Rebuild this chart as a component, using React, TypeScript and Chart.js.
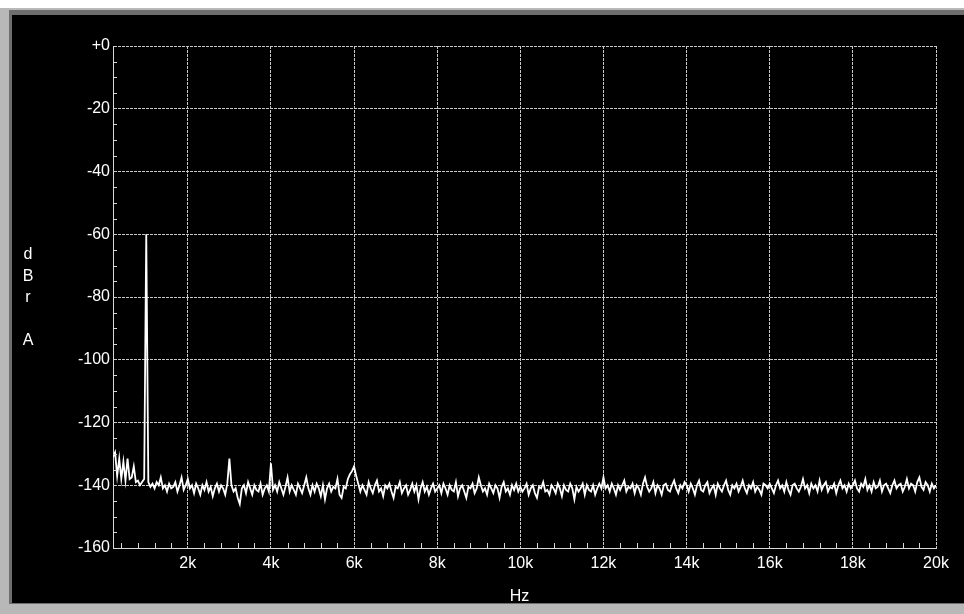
import React, { useEffect, useRef } from "react";
import { Chart, registerables } from "chart.js";

Chart.register(...registerables);

// Frequency axis (Hz): FFT bins every 50 Hz from 200 Hz to 20 kHz
const freqStart = 200;
const freqStep = 50;
const xTickValues = [2000, 4000, 6000, 8000, 10000, 12000, 14000, 16000, 18000, 20000];
const xMinorTicks = [400, 800, 1200, 1600, 2400, 2800, 3200, 3600, 4400, 4800, 5200, 5600, 6400, 6800, 7200, 7600, 8400, 8800, 9200, 9600, 10400, 10800, 11200, 11600, 12400, 12800, 13200, 13600, 14400, 14800, 15200, 15600, 16400, 16800, 17200, 17600, 18400, 18800, 19200, 19600];
const yTickValues = [0, -20, -40, -60, -80, -100, -120, -140, -160];
const yMinorTicks = [-5, -10, -15, -25, -30, -35, -45, -50, -55, -65, -70, -75, -85, -90, -95, -105, -110, -115, -125, -130, -135, -145, -150, -155];
const yLabelLetters = ["d", "B", "r", "", "A"];
const xTitle = "Hz";

// Level (dBr A), segment by segment
const level200to1950 = [-131, -129.5, -137, -131.5, -138, -132.5, -138.5, -131.5, -138, -137.5, -134, -139, -138.5, -140, -139, -138, -60, -139, -140.5, -139.5, -141, -139, -140, -137.5, -141, -140, -142, -139.5, -141, -140.5, -139, -142, -140, -137.5, -141.5, -140];
const level2000to3950 = [-138, -141, -140, -142.5, -139.5, -141, -143, -140, -141.5, -139, -142, -140.5, -143.5, -141, -139.5, -142, -140, -141, -143, -139.5, -131.5, -140, -142, -141, -144, -146, -141, -140, -142.5, -139, -141, -143, -140, -141.5, -142, -139.5, -143, -141, -140, -142];
const level4000to5950 = [-133, -141.5, -140, -142, -139, -141, -143, -140.5, -137.5, -142, -140, -141.5, -143, -139.5, -141, -142.5, -140, -137.5, -141, -143, -140, -142, -139.5, -141, -143.5, -140, -144.5, -141, -139.5, -142, -140.5, -141, -138, -143, -144, -140.5, -141, -138, -136.5, -135.5];
const level6000to7950 = [-134, -137, -139.5, -142, -140, -141.5, -143, -139, -141, -142.5, -140, -138.5, -142, -141, -143.5, -140, -141, -139.5, -142, -144, -140.5, -141, -139, -142.5, -141, -140, -143, -141.5, -139.5, -142, -140, -144.5, -141, -139, -142, -140.5, -143, -141, -139.5, -142];
const level8000to9950 = [-141, -140, -142.5, -139.5, -141, -143, -140, -141.5, -142, -139, -143.5, -141, -140, -142, -144, -140.5, -141, -139.5, -142.5, -141, -137.5, -140, -142, -141, -143, -139.5, -141, -142.5, -140, -141, -144, -140.5, -139, -142, -141, -143, -140, -141.5, -139.5, -142];
const level10000to11950 = [-140.5, -142, -141, -139.5, -143, -141, -140, -142.5, -144, -140.5, -141, -139, -142, -141.5, -143, -140, -141, -142.5, -139.5, -141, -143.5, -140, -141.5, -142, -139.5, -141, -144.5, -140.5, -142, -141, -139.5, -143, -140, -141.5, -142, -140, -143, -141, -139.5, -141];
const level12000to13950 = [-137.5, -141, -140, -142, -139.5, -141, -143, -140, -141.5, -140, -138.5, -142, -140.5, -141, -139.5, -142.5, -140, -141, -143, -139.5, -137.5, -140.5, -142, -141, -139, -142.5, -140, -141, -143, -140, -139.5, -141.5, -142, -140, -138.5, -141, -142.5, -140, -141, -139];
const level14000to15950 = [-140, -142, -139.5, -141, -143, -140, -138.5, -141.5, -142, -140, -139, -142.5, -141, -140, -143, -139.5, -141, -142, -140, -138.5, -141.5, -143, -140, -141, -139.5, -142, -140.5, -138.5, -141, -142.5, -140, -141, -139, -142, -140.5, -141.5, -143, -139.5, -140, -141];
const level16000to17950 = [-139.5, -141, -142.5, -140, -138.5, -141, -140, -142, -139, -141.5, -143, -140, -139.5, -141, -142, -140.5, -138, -141, -140, -142.5, -139.5, -141, -140, -142, -138.5, -141.5, -140, -139, -142, -140.5, -141, -139.5, -142.5, -140, -138.5, -141, -140, -142, -139.5, -141];
const level18000to20000 = [-140, -138.5, -141, -142, -139.5, -140.5, -138, -141.5, -140, -142, -139, -141, -140.5, -138.5, -142, -140, -139.5, -141, -142.5, -140, -138.5, -141, -140, -139.5, -142, -140.5, -138, -141, -139.5, -140, -142, -139, -137.5, -140.5, -141.5, -139, -140, -142, -139.5, -141, -140];

const levels = [
  ...level200to1950,
  ...level2000to3950,
  ...level4000to5950,
  ...level6000to7950,
  ...level8000to9950,
  ...level10000to11950,
  ...level12000to13950,
  ...level14000to15950,
  ...level16000to17950,
  ...level18000to20000,
];

const FONT = '"Liberation Sans", Arial, sans-serif';

export default function App() {
  const canvasRef = useRef<HTMLCanvasElement | null>(null);

  useEffect(() => {
    const canvas = canvasRef.current;
    if (!canvas) return;
    const points = levels.map((v, i) => ({ x: freqStart + i * freqStep, y: v }));

    const extras = {
      id: "apExtras",
      afterDraw(chart: any) {
        const { ctx, chartArea, scales } = chart;
        const xs = scales.x;
        const ys = scales.y;
        ctx.save();
        ctx.strokeStyle = "#d8d8d8";
        ctx.lineWidth = 1;
        ctx.beginPath();
        for (const v of yMinorTicks) {
          const py = Math.round(ys.getPixelForValue(v)) + 0.5;
          ctx.moveTo(chartArea.left, py);
          ctx.lineTo(chartArea.left + 4, py);
        }
        for (const v of xMinorTicks) {
          const px = Math.round(xs.getPixelForValue(v)) + 0.5;
          ctx.moveTo(px, chartArea.bottom);
          ctx.lineTo(px, chartArea.bottom - 5);
        }
        ctx.stroke();
        ctx.fillStyle = "#ffffff";
        ctx.font = "16px " + FONT;
        ctx.textAlign = "center";
        ctx.textBaseline = "middle";
        yLabelLetters.forEach((ch, i) => {
          if (ch) ctx.fillText(ch, 16, 240 + i * 21.5);
        });
        ctx.fillText(xTitle, (chartArea.left + chartArea.right) / 2 - 5, 582);
        ctx.restore();
      },
    };

    const chart = new Chart(canvas, {
      type: "line",
      data: {
        datasets: [
          {
            data: points,
            borderColor: "#ffffff",
            borderWidth: 1.8,
            pointRadius: 0,
            tension: 0,
            fill: false,
          },
        ],
      },
      options: {
        animation: false,
        responsive: false,
        devicePixelRatio: 1,
        layout: { padding: { top: 31, right: 28, left: 0, bottom: 0 } },
        plugins: { legend: { display: false }, tooltip: { enabled: false }, title: { display: false } },
        scales: {
          x: {
            type: "linear",
            min: 200,
            max: 20000,
            afterBuildTicks: (axis: any) => {
              axis.ticks = xTickValues.map((v) => ({ value: v }));
            },
            afterFit: (axis: any) => {
              axis.height = 55;
            },
            ticks: {
              color: "#ffffff",
              font: { family: FONT, size: 16 },
              padding: 6,
              maxRotation: 0,
              autoSkip: false,
              callback: (v: any) => v / 1000 + "k",
            },
            grid: { color: "#c8c8c8", lineWidth: 1, drawTicks: false },
            border: { display: true, color: "#d8d8d8", width: 1, dash: [3, 1] },
          },
          y: {
            type: "linear",
            min: -160,
            max: 0,
            afterBuildTicks: (axis: any) => {
              axis.ticks = yTickValues.map((v) => ({ value: v }));
            },
            afterFit: (axis: any) => {
              axis.width = 101;
            },
            ticks: {
              color: "#ffffff",
              font: { family: FONT, size: 16 },
              padding: 3,
              callback: (v: any) => (v === 0 ? "+0" : String(v)),
            },
            grid: { color: "#c8c8c8", lineWidth: 1, drawTicks: false },
            border: { display: true, color: "#d8d8d8", width: 1, dash: [3, 1] },
          },
        },
      },
      plugins: [extras],
    });
    return () => chart.destroy();
  }, []);

  return (
    <div style={{ position: "fixed", left: 0, top: 0, width: 964, height: 614, background: "#ffffff", overflow: "hidden" }}>
      <div style={{ position: "absolute", left: 0, top: 8, width: 964, height: 606, background: "#b8b8b8" }} />
      <div style={{ position: "absolute", left: 9, top: 10, width: 955, height: 594, background: "#6e6e6e" }} />
      <div style={{ position: "absolute", left: 12, top: 15, width: 952, height: 588, background: "#000000" }}>
        <canvas ref={canvasRef} width={952} height={588} style={{ display: "block", width: 952, height: 588 }} />
      </div>
    </div>
  );
}
